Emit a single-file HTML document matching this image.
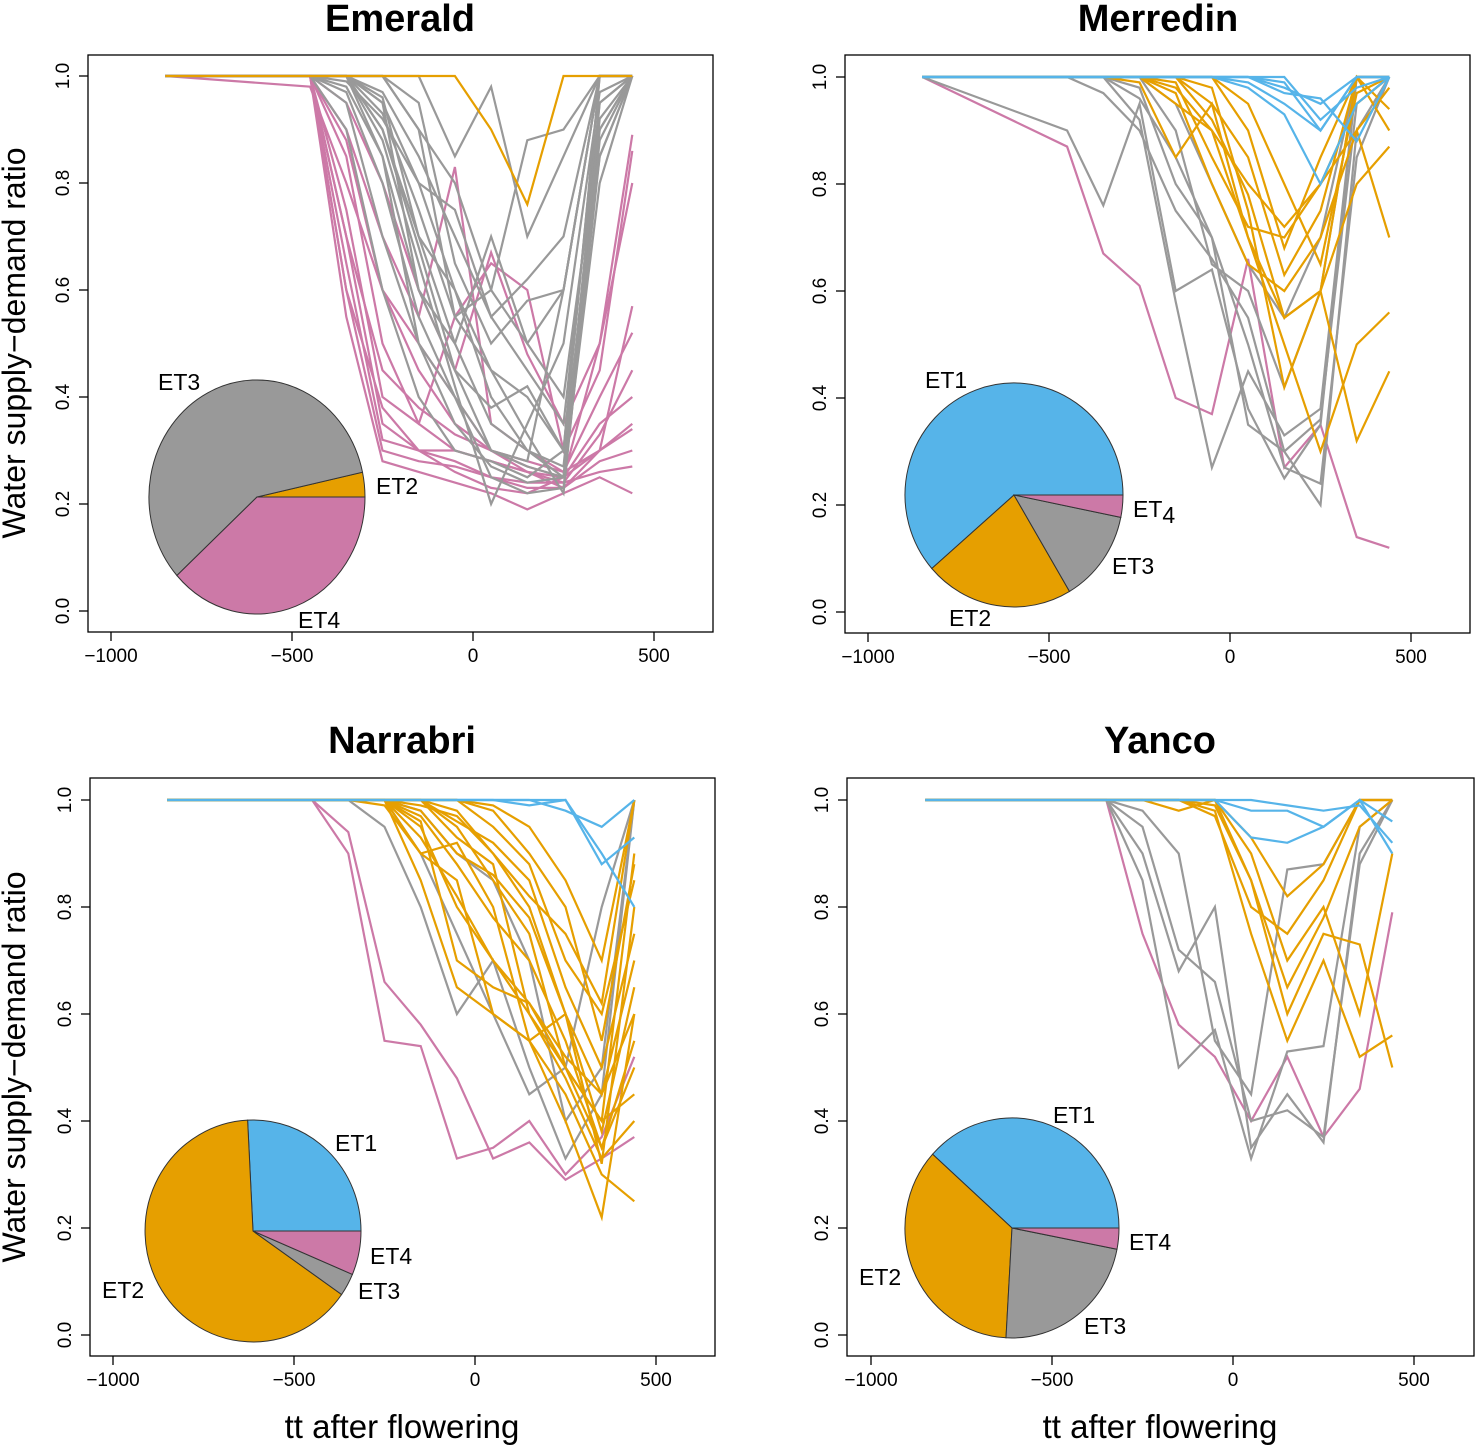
<!DOCTYPE html>
<html><head><meta charset="utf-8"><style>
html,body{margin:0;padding:0;background:#fff;}
svg{display:block;font-family:"Liberation Sans",Arial,sans-serif;}
</style></head><body>
<svg id="fig" width="1476" height="1447" viewBox="0 0 1476 1447"></svg>
<script>
const xs = [-850,-450,-350,-250,-150,-50,50,150,250,350,440];
const xTicks = [-1000,-500,0,500];
const yTicks = [0,0.2,0.4,0.6,0.8,1.0];
const yTickLabels = ["0.0","0.2","0.4","0.6","0.8","1.0"];
const C = {ET1:"#56B4E9",ET2:"#E69F00",ET3:"#999999",ET4:"#CC79A7"};

const emeraldGray = [
[1,1,1,0.95,0.8,0.6,0.45,0.4,0.3,1,1],[1,1,1,0.9,0.7,0.5,0.35,0.3,0.25,0.9,1],
[1,1,0.98,0.85,0.6,0.45,0.3,0.27,0.25,0.95,1],[1,1,1,1,0.9,0.8,0.6,0.5,0.6,1,1],
[1,1,1,0.93,0.75,0.55,0.6,0.88,0.9,1,1],[1,1,0.95,0.7,0.5,0.4,0.25,0.22,0.23,0.85,1],
[1,1,1,0.97,0.85,0.7,0.55,0.45,0.35,0.95,1],[1,1,1,1,0.95,0.65,0.5,0.58,0.6,1,1],
[1,1,0.9,0.6,0.4,0.3,0.28,0.25,0.3,1,1],[1,1,1,0.88,0.65,0.42,0.2,0.35,0.5,0.97,1],
[1,1,1,1,1,0.85,0.98,0.7,0.85,1,1],[1,1,1,0.95,0.6,0.5,0.7,0.5,0.4,0.9,1],
[1,1,0.97,0.8,0.55,0.4,0.3,0.28,0.6,1,1],[1,1,1,0.9,0.68,0.45,0.38,0.42,0.3,0.85,1],
[1,1,1,1,0.9,0.55,0.45,0.33,0.22,0.88,1],[1,1,0.99,0.92,0.8,0.75,0.55,0.62,0.7,1,1],
[1,1,1,0.96,0.7,0.6,0.4,0.3,0.27,0.92,1],[1,1,1,0.85,0.5,0.35,0.27,0.24,0.25,0.8,1]];
const emeraldPink = [
[1,1,0.6,0.3,0.28,0.27,0.25,0.24,0.24,0.26,0.27],[1,1,0.7,0.35,0.3,0.26,0.23,0.22,0.25,0.3,0.35],
[1,1,0.55,0.28,0.26,0.24,0.22,0.19,0.22,0.25,0.22],[1,1,0.85,0.5,0.35,0.3,0.28,0.26,0.25,0.35,0.4],
[1,0.98,0.8,0.6,0.5,0.4,0.3,0.28,0.26,0.4,0.52],[1,1,0.9,0.7,0.55,0.83,0.35,0.3,0.26,0.3,0.57],
[1,1,0.75,0.4,0.35,0.55,0.65,0.6,0.3,0.45,0.86],[1,1,0.95,0.8,0.6,0.45,0.67,0.48,0.35,0.5,0.89],
[1,1,0.65,0.32,0.3,0.3,0.28,0.26,0.23,0.3,0.34],[1,1,0.88,0.6,0.45,0.35,0.3,0.27,0.25,0.5,0.8],
[1,1,0.6,0.38,0.3,0.28,0.25,0.23,0.23,0.28,0.3],[1,1,0.7,0.45,0.38,0.33,0.3,0.26,0.24,0.33,0.45]];
const emeraldOrange = [[1,1,1,1,1,1,0.9,0.76,1,1,1]];

const merredinPink = [[1,0.87,0.67,0.61,0.4,0.37,0.66,0.27,0.35,0.14,0.12]];
const merredinGray = [
[1,0.9,0.76,0.95,0.6,0.64,0.38,0.25,0.35,1,1],[1,1,0.97,0.9,0.75,0.66,0.55,0.3,0.2,0.9,1],
[1,1,1,0.92,0.58,0.27,0.45,0.33,0.38,1,1],[1,1,1,0.96,0.85,0.7,0.35,0.3,0.36,0.95,1],
[1,1,1,1,0.9,0.65,0.6,0.42,0.6,1,1],[1,1,1,0.98,0.8,0.7,0.5,0.27,0.24,0.85,1],
[1,1,1,1,0.95,0.8,0.65,0.55,0.7,1,1]];
const merredinOrange = [
[1,1,1,0.99,0.85,0.95,0.7,0.5,0.3,0.5,0.56],[1,1,1,1,0.95,0.9,0.7,0.55,0.6,0.32,0.45],
[1,1,1,1,1,0.98,0.75,0.42,0.6,0.8,0.87],[1,1,1,1,0.97,0.8,0.65,0.6,0.7,0.9,0.7],
[1,1,1,1,1,0.95,0.85,0.63,0.75,1,0.94],[1,1,1,1,0.99,0.85,0.72,0.7,0.8,0.95,1],
[1,1,1,1,1,1,0.9,0.68,0.85,1,0.9],[1,1,1,1,1,0.92,0.78,0.55,0.6,1,1],
[1,1,1,1,0.98,0.9,0.8,0.72,0.8,0.9,0.98],[1,1,1,1,1,1,0.95,0.8,0.65,0.97,1]];
const merredinBlue = [
[1,1,1,1,1,1,1,0.98,0.95,1,1],[1,1,1,1,1,1,0.99,0.95,0.9,1,1],
[1,1,1,1,1,1,1,1,0.92,0.98,1],[1,1,1,1,1,1,0.98,0.93,0.8,0.95,1],
[1,1,1,1,1,1,1,0.97,0.96,0.88,1],[1,1,1,1,1,1,1,0.99,0.9,1,1]];

const narrabriPink = [[1,1,0.94,0.66,0.58,0.48,0.33,0.36,0.29,0.33,0.37],[1,1,0.9,0.55,0.54,0.33,0.35,0.4,0.3,0.37,0.52]];
const narrabriGray = [[1,1,1,0.95,0.8,0.6,0.7,0.5,0.33,0.45,1],[1,1,1,1,0.9,0.75,0.6,0.45,0.5,0.8,1],[1,1,1,1,0.98,0.9,0.85,0.7,0.4,0.5,1]];
const narrabriOrange = [
[1,1,1,1,0.85,0.65,0.6,0.55,0.45,0.3,0.25],[1,1,1,1,0.95,0.8,0.7,0.6,0.5,0.35,0.55],
[1,1,1,1,0.9,0.85,0.6,0.55,0.6,0.32,0.8],[1,1,1,1,1,0.95,0.85,0.75,0.5,0.4,0.9],
[1,1,1,0.99,0.9,0.92,0.8,0.55,0.4,0.22,0.6],[1,1,1,1,1,0.98,0.9,0.8,0.6,0.45,0.7],
[1,1,1,1,0.97,0.88,0.78,0.7,0.55,0.35,0.5],[1,1,1,1,1,1,0.95,0.88,0.7,0.6,0.85],
[1,1,1,1,0.93,0.82,0.7,0.62,0.5,0.4,0.45],[1,1,1,1,1,0.96,0.92,0.85,0.65,0.5,0.75],
[1,1,1,1,0.98,0.9,0.86,0.78,0.6,0.38,0.65],[1,1,1,1,1,1,0.98,0.9,0.8,0.55,0.88],
[1,1,1,1,0.96,0.7,0.65,0.62,0.52,0.45,0.6],[1,1,1,1,1,0.93,0.88,0.6,0.48,0.33,0.4],
[1,1,1,1,0.99,0.97,0.9,0.82,0.75,0.62,1],[1,1,1,1,1,1,0.99,0.95,0.85,0.7,1]];
const narrabriBlue = [[1,1,1,1,1,1,1,1,0.98,0.95,1],[1,1,1,1,1,1,1,1,1,0.9,0.8],[1,1,1,1,1,1,1,0.99,1,0.88,0.93]];

const yancoPink = [[1,1,1,0.75,0.58,0.52,0.4,0.52,0.37,0.46,0.79]];
const yancoGray = [[1,1,1,0.9,0.68,0.8,0.35,0.45,0.36,0.9,1],[1,1,1,0.85,0.5,0.57,0.33,0.53,0.54,0.95,1],[1,1,1,0.95,0.72,0.66,0.4,0.42,0.37,0.88,1],[1,1,1,0.98,0.9,0.55,0.45,0.87,0.88,1,1]];
const yancoOrange = [[1,1,1,1,0.98,1,0.85,0.6,0.75,0.73,0.5],[1,1,1,1,1,0.98,0.75,0.55,0.7,0.52,0.56],[1,1,1,1,1,1,0.9,0.7,0.8,0.6,0.9],[1,1,1,1,1,0.97,0.8,0.75,0.85,1,1],[1,1,1,1,1,1,0.93,0.82,0.88,1,1],[1,1,1,1,1,0.99,0.85,0.65,0.78,0.95,1]];
const yancoBlue = [[1,1,1,1,1,1,0.93,0.92,0.95,1,0.96],[1,1,1,1,1,1,0.98,0.98,0.95,1,0.9],[1,1,1,1,1,1,1,0.99,0.98,0.99,0.92]];

// pie fractions: ET1, ET2, ET3, ET4
const emeraldPie = [0, 0.034, 0.583, 0.383];
const merredinPie = [0.614, 0.221, 0.133, 0.032];
const narrabriPie = [0.258, 0.645, 0.033, 0.064];
const yancoPie = [0.383, 0.358, 0.228, 0.031];

const panels = [
 {name:"Emerald", bx:88, by:55, bw:625, bh:577, x0:473, y0:611, y1:76, tx:400, ty:31,
  series:[["ET4",emeraldPink],["ET3",emeraldGray],["ET2",emeraldOrange]],
  pie:emeraldPie, pc:[257,497], pr:108, pry:117,
  labels:[["ET3",158,390],["ET2",376,494],["ET4",298,628]]},
 {name:"Merredin", bx:845, by:55, bw:625, bh:578, x0:1230, y0:612, y1:77, tx:1158, ty:31,
  series:[["ET4",merredinPink],["ET3",merredinGray],["ET2",merredinOrange],["ET1",merredinBlue]],
  pie:merredinPie, pc:[1014,495], pr:109, pry:112,
  labels:[["ET1",925,388],["ET4",1133,517],["ET3",1112,574],["ET2",949,626]]},
 {name:"Narrabri", bx:90, by:778, bw:625, bh:578, x0:475, y0:1335, y1:800, tx:402, ty:753,
  series:[["ET4",narrabriPink],["ET3",narrabriGray],["ET2",narrabriOrange],["ET1",narrabriBlue]],
  pie:narrabriPie, pc:[253,1231], pr:108, pry:111,
  labels:[["ET1",335,1151],["ET4",370,1264],["ET3",358,1299],["ET2",102,1298]]},
 {name:"Yanco", bx:847, by:778, bw:627, bh:578, x0:1233, y0:1335, y1:800, tx:1160, ty:753,
  series:[["ET4",yancoPink],["ET3",yancoGray],["ET2",yancoOrange],["ET1",yancoBlue]],
  pie:yancoPie, pc:[1012,1228], pr:107, pry:110,
  labels:[["ET1",1053,1123],["ET4",1129,1250],["ET2",859,1285],["ET3",1084,1334]]}
];
const NS="http://www.w3.org/2000/svg";
const svg=document.getElementById('fig');
function mk(tag,attrs,parent){const e=document.createElementNS(NS,tag);for(const k in attrs)e.setAttribute(k,attrs[k]);(parent||svg).appendChild(e);return e;}
const PXU = 543/1500;
panels.forEach((p,pi)=>{
  const g=mk('g',{});
  
  
  const sx=v=>p.x0+v*PXU;
  const sy=v=>p.y0+(p.y1-p.y0)*v;
  const t=mk('text',{x:p.tx,y:p.ty,'font-size':38,'font-weight':'bold','text-anchor':'middle'},g);
  t.textContent=p.name;
  
  
  p.series.forEach(([et,arr])=>{
    arr.forEach(vals=>{
      const d=vals.map((v,i)=>(i?'L':'M')+sx(xs[i]).toFixed(1)+' '+sy(v).toFixed(1)).join(' ');
      const l=mk('path',{d:d,fill:'none',stroke:C[et],'stroke-width':2.2},g);
      
      
    });
  });
  const b=mk('rect',{x:p.bx,y:p.by,width:p.bw,height:p.bh,fill:'none',stroke:'#000','stroke-width':1.3},g);
  
  
  xTicks.forEach(v=>{
    const x=sx(v);
    mk('line',{x1:x,x2:x,y1:p.by+p.bh,y2:p.by+p.bh+9,stroke:'#000','stroke-width':1.3},g);
    const tt=mk('text',{x:x,y:p.by+p.bh+30,'font-size':19,'text-anchor':'middle'},g);
    tt.textContent=(v<0?'\u2212':'')+Math.abs(v);
    
    
  });
  yTicks.forEach((v,i)=>{
    const y=sy(v);
    mk('line',{x1:p.bx,x2:p.bx-9,y1:y,y2:y,stroke:'#000','stroke-width':1.3},g);
    const tt=mk('text',{x:p.bx-19,y:y,'font-size':19,'text-anchor':'middle',transform:`rotate(-90 ${p.bx-19} ${y})`},g);
    tt.textContent=yTickLabels[i];
    
    
  });
  const [cx,cy]=p.pc, r=p.pr, ry=p.pry;
  let a=0;
  const keys=["ET1","ET2","ET3","ET4"];
  p.pie.forEach((f,i)=>{
    if(f<=0) return;
    const a2=a+f*2*Math.PI;
    const x1=cx+r*Math.cos(a), y1=cy-ry*Math.sin(a);
    const x2=cx+r*Math.cos(a2), y2=cy-ry*Math.sin(a2);
    const large=(a2-a)>Math.PI?1:0;
    const s=mk('path',{d:`M${cx} ${cy} L${x1.toFixed(1)} ${y1.toFixed(1)} A${r} ${ry} 0 ${large} 0 ${x2.toFixed(1)} ${y2.toFixed(1)} Z`,fill:C[keys[i]],stroke:'#333','stroke-width':1},g);
    
    
    a=a2;
  });
  p.labels.forEach(([txt,x,y])=>{
    const tt=mk('text',{x:x,y:y,'font-size':23},g);
    if(p.name==="Merredin"&&txt==="ET4"){tt.innerHTML='ET<tspan dy="6">4</tspan>';}
    else tt.textContent=txt;
    
    
  });
});
function txt(s,x,y,size,rot,name){
  const t=mk('text',{x:x,y:y,'font-size':size,'text-anchor':'middle'});
  if(rot)t.setAttribute('transform',`rotate(-90 ${x} ${y})`);
  t.textContent=s;
  
  
}
txt("Water supply\u2212demand ratio",25,343,32,true,'y-axis-title');
txt("Water supply\u2212demand ratio",25,1067,32,true,'y-axis-title');
txt("tt after flowering",402,1438,33,false,'x-axis-title');
txt("tt after flowering",1160,1438,33,false,'x-axis-title');
</script>
</body></html>
